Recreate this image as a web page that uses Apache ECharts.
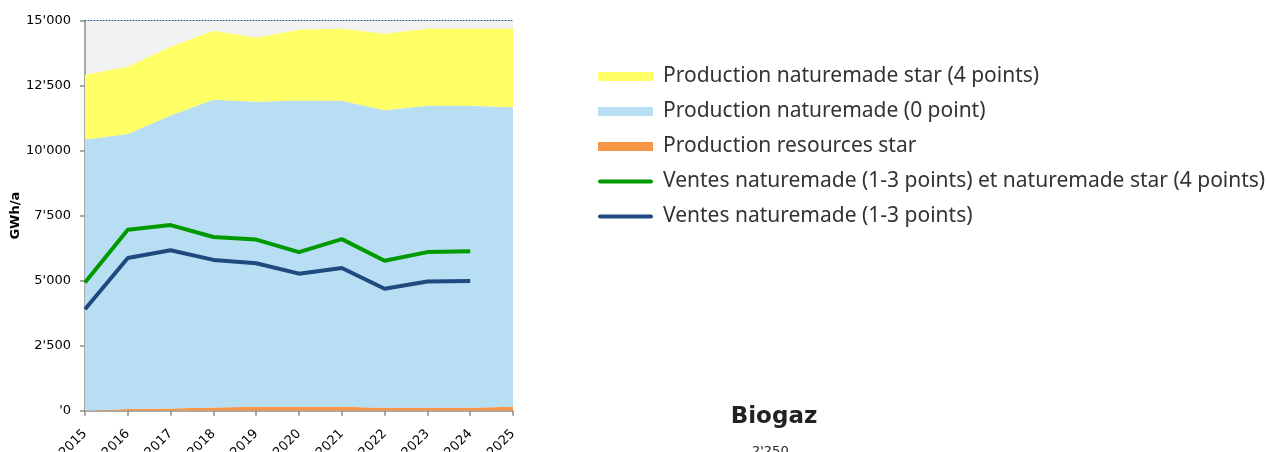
<!DOCTYPE html>
<html>
<head>
<meta charset="utf-8">
<script src="https://cdn.jsdelivr.net/npm/echarts@6/dist/echarts.min.js"></script>
<style>
  html, body { margin: 0; padding: 0; background: #fff; }
  #chart { width: 1266px; height: 452px; }
</style>
</head>
<body>
<div id="chart"></div>
<script>
// values (GWh/a)
const years = ['2015', '2016', '2017', '2018', '2019', '2020', '2021', '2022', '2023', '2024', '2025']
const resourcesStar = [0, 65, 80, 127, 150, 150, 150, 115, 115, 115, 150]
const naturemade0 = [10435, 10575, 11270, 11833, 11730, 11780, 11770, 11445, 11615, 11615, 11520]
const naturemadeStar = [2488, 2590, 2650, 2655, 2466, 2724, 2772, 2940, 2962, 2962, 3022]
const ventesTotal = [4935, 6960, 7140, 6680, 6580, 6100, 6600, 5770, 6100, 6130]
const ventes13 = [3900, 5870, 6170, 5800, 5670, 5270, 5490, 4690, 4970, 4990]
const yTickLabels = ["'0", "2'500", "5'000", "7'500", "10'000", "12'500", "15'000"]

const names = {
  star: 'Production naturemade star (4 points)',
  zero: 'Production naturemade (0 point)',
  res: 'Production resources star',
  green: 'Ventes naturemade (1-3 points) et naturemade star (4 points)',
  blue: 'Ventes naturemade (1-3 points)'
}

const chart = echarts.init(document.getElementById('chart'))

function areaSeries(name, data, color) {
  return {
    name: name,
    type: 'line',
    stack: 'prod',
    data: data,
    showSymbol: false,
    symbol: 'none',
    lineStyle: { width: 0, color: color },
    itemStyle: { color: color },
    areaStyle: { color: color, opacity: 1 },
    silent: true
  }
}

function lineSeries(name, data, color) {
  return {
    name: name,
    type: 'line',
    data: data,
    symbol: 'none',
    lineStyle: { width: 4, color: color },
    itemStyle: { color: color },
    z: 5
  }
}

const bar = 'path://M0,0L55,0L55,9L0,9Z'
const stroke = 'path://M2,0L53,0A2,2,0,0,1,53,4L2,4A2,2,0,0,1,2,0Z'

const option = {
  animation: false,
  backgroundColor: '#fff',
  textStyle: { fontFamily: 'DejaVu Sans' },
  grid: {
    left: 85,
    right: 753,
    top: 20.7,
    bottom: 41.3,
    outerBoundsMode: 'none',
    containLabel: false,
    show: true,
    backgroundColor: '#f2f2f2',
    borderWidth: 0
  },
  legend: {
    orient: 'vertical',
    left: 593,
    top: 61,
    itemWidth: 55,
    itemHeight: 9,
    itemGap: 14,
    symbolKeepAspect: true,
    textStyle: { fontFamily: 'Noto Sans', fontSize: 21, color: '#333', padding: [0, 0, 0, 5] },
    data: [
      { name: names.star, icon: bar },
      { name: names.zero, icon: bar },
      { name: names.res, icon: bar },
      { name: names.green, icon: stroke },
      { name: names.blue, icon: stroke }
    ]
  },
  title: {
    text: 'Biogaz',
    left: 769,
    textAlign: 'center',
    top: 401,
    textStyle: { fontFamily: 'DejaVu Sans', fontWeight: 'bold', fontSize: 23, color: '#222' }
  },
  graphic: [{
    type: 'text',
    left: 752,
    top: 445,
    style: { text: "2'250", fontFamily: 'DejaVu Sans', fontSize: 13, fill: '#222' }
  }],
  xAxis: [{
    type: 'category',
    data: years,
    boundaryGap: false,
    axisLine: { lineStyle: { color: '#8c8c8c', width: 1.5 } },
    axisTick: { show: true, length: 5, alignWithLabel: true, lineStyle: { color: '#8c8c8c', width: 1.5 } },
    axisLabel: { rotate: 45, fontSize: 13, color: '#000', margin: 21, interval: 0 },
    splitLine: { show: false }
  }, {
    type: 'category',
    data: years,
    position: 'top',
    boundaryGap: false,
    axisLine: { lineStyle: { color: '#1f4e9c', width: 1, type: [1, 2] } },
    axisTick: { show: false },
    axisLabel: { show: false }
  }],
  yAxis: {
    type: 'value',
    min: 0,
    max: 15000,
    interval: 2500,
    name: 'GWh/a',
    nameLocation: 'middle',
    nameRotate: 90,
    nameGap: 59,
    nameTextStyle: { fontFamily: 'DejaVu Sans', fontWeight: 'bold', fontSize: 13, color: '#000' },
    axisLine: { show: true, lineStyle: { color: '#8c8c8c', width: 1.5 } },
    axisTick: { show: true, length: 5, lineStyle: { color: '#8c8c8c', width: 1.5 } },
    axisLabel: {
      fontSize: 13,
      color: '#000',
      margin: 14,
      formatter: v => yTickLabels[Math.round(v / 2500)]
    },
    splitLine: { show: false }
  },
  series: [
    areaSeries(names.res, resourcesStar, '#f79646'),
    areaSeries(names.zero, naturemade0, '#b7def3'),
    areaSeries(names.star, naturemadeStar, '#ffff66'),
    lineSeries(names.green, ventesTotal, '#009a00'),
    lineSeries(names.blue, ventes13, '#1f4a80')
  ]
}

chart.setOption(option)
</script>
</body>
</html>
